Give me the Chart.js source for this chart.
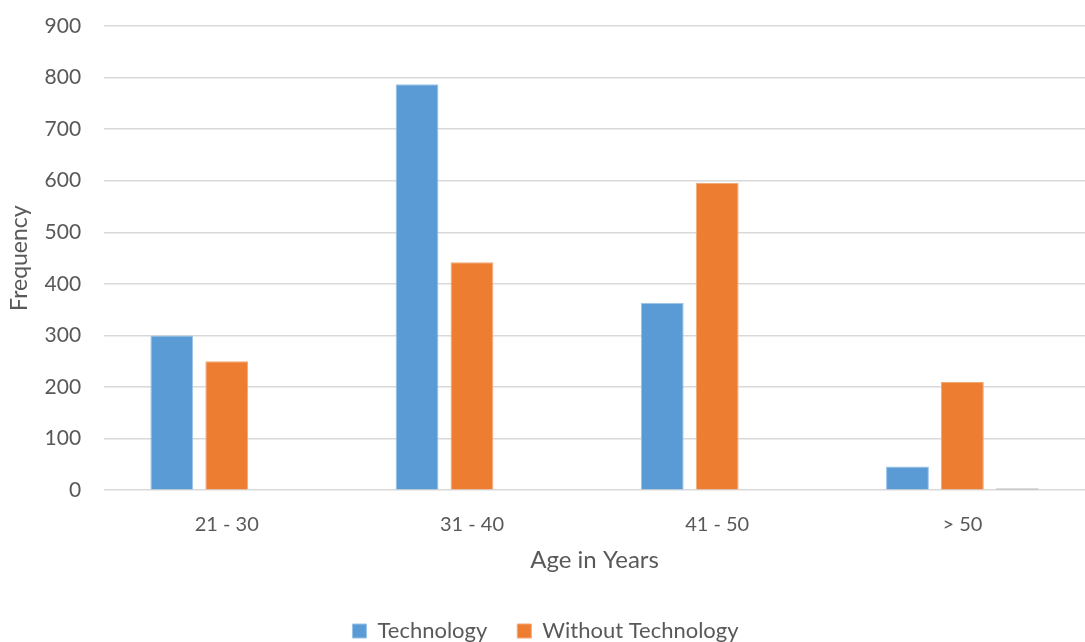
<!DOCTYPE html>
<html>
<head>
<meta charset="utf-8">
<script src="https://cdn.jsdelivr.net/npm/chart.js@4/dist/chart.umd.min.js"></script>
<style>
  html, body { margin: 0; padding: 0; background: #ffffff; }
  #wrap { width: 1085px; height: 642px; position: relative; }
</style>
</head>
<body>
<div id="wrap"><canvas id="chart"></canvas></div>
<script>
// Age groups on the x axis
const categories = ['21 - 30', '31 - 40', '41 - 50', '> 50'];

// Frequencies per age group
const technology = [300, 787, 363, 46];
const withoutTechnology = [250, 442, 596, 210];
const otherSeries = [0, 0, 0, 4];

// Value axis ticks
const yTicks = [0, 100, 200, 300, 400, 500, 600, 700, 800, 900];

const FONT = 'Lato, "Open Sans", "Liberation Sans", sans-serif';
const TEXT = '#595959';

new Chart(document.getElementById('chart'), {
  type: 'bar',
  data: {
    labels: categories,
    datasets: [
      {
        label: 'Technology',
        data: technology,
        backgroundColor: '#5b9bd5',
        borderColor: '#9cc3e8',
        borderWidth: 1
      },
      {
        label: 'Without Technology',
        data: withoutTechnology,
        backgroundColor: '#ed7d31',
        borderColor: '#f4a874',
        borderWidth: 1
      },
      {
        label: '',
        data: otherSeries,
        backgroundColor: '#a5a5a5',
        borderColor: '#c4c4c4',
        borderWidth: 1
      }
    ]
  },
  options: {
    responsive: true,
    maintainAspectRatio: false,
    animation: false,
    datasets: {
      bar: { categoryPercentage: 0.672, barPercentage: 0.78 }
    },
    layout: { padding: { top: 0, right: 0, bottom: -10, left: 6 } },
    plugins: {
      legend: {
        position: 'bottom',
        labels: {
          font: { family: FONT, size: 22 },
          color: TEXT,
          boxWidth: 14,
          boxHeight: 14,
          padding: 30,
          filter: (item) => item.text !== ''
        }
      },
      tooltip: { enabled: false }
    },
    scales: {
      x: {
        grid: { display: false, drawTicks: false },
        border: { display: false },
        ticks: {
          font: { family: FONT, size: 20 },
          color: TEXT,
          padding: 22
        },
        title: {
          display: true,
          text: 'Age in Years',
          font: { family: FONT, size: 24 },
          color: TEXT,
          padding: { top: -12, bottom: 15 }
        }
      },
      y: {
        min: 0,
        max: 900,
        afterBuildTicks: (axis) => { axis.ticks = yTicks.map(v => ({ value: v })); },
        // keep the top gridline close to the canvas edge
        afterFit: (axis) => { axis.paddingTop = 26; },
        grid: { color: '#d9d9d9', lineWidth: 1.5, drawTicks: false },
        border: { display: false },
        ticks: {
          font: { family: FONT, size: 21 },
          color: TEXT,
          padding: 23
        },
        title: {
          display: true,
          text: 'Frequency',
          font: { family: FONT, size: 23 },
          color: TEXT,
          padding: { top: 0, bottom: -12 }
        }
      }
    }
  }
});
</script>
</body>
</html>
